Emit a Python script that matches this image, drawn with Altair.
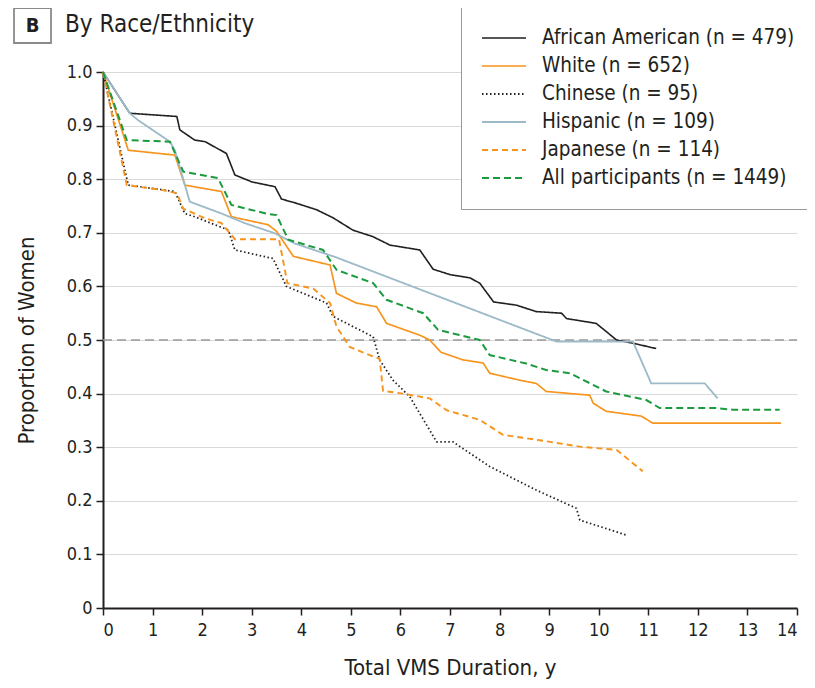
import altair as alt
import pandas as pd

FONT = "DejaVu Sans Condensed, Roboto Condensed, Liberation Sans Narrow, Roboto, sans-serif"

series_names = ["African American (n = 479)", "White (n = 652)", "Chinese (n = 95)",
                "Hispanic (n = 109)", "Japanese (n = 114)", "All participants (n = 1449)"]

aa_x = [0, 0.54, 1.49, 1.55, 1.85, 2.06, 2.49, 2.66, 3.0, 3.47, 3.6, 3.87, 4.31, 4.64, 5.04, 5.44,
        5.79, 6.39, 6.66, 7.0, 7.4, 7.6, 7.88, 8.34, 8.74, 9.25, 9.35, 9.95, 10.36, 10.69, 11.16]
aa_y = [1.0, 0.923, 0.917, 0.892, 0.873, 0.870, 0.848, 0.808, 0.795, 0.786, 0.763, 0.756, 0.743,
        0.728, 0.705, 0.693, 0.677, 0.668, 0.632, 0.622, 0.616, 0.606, 0.571, 0.565, 0.553, 0.550,
        0.540, 0.531, 0.500, 0.494, 0.484]

wh_x = [0, 0.51, 1.45, 1.65, 2.39, 2.59, 3.33, 3.5, 3.84, 4.58, 4.71, 5.11, 5.52, 5.72, 6.39, 6.59,
        6.82, 7.26, 7.67, 7.8, 8.41, 8.74, 8.94, 9.82, 9.89, 10.15, 10.86, 11.09, 13.68]
wh_y = [1.0, 0.854, 0.845, 0.789, 0.777, 0.730, 0.715, 0.703, 0.656, 0.640, 0.587, 0.569, 0.562,
        0.531, 0.509, 0.500, 0.477, 0.463, 0.457, 0.438, 0.425, 0.419, 0.404, 0.397, 0.382, 0.367,
        0.358, 0.345, 0.345]

ch_x = [0, 0.51, 1.45, 1.65, 1.85, 2.53, 2.66, 3.43, 3.7, 4.51, 4.64, 5.45, 5.58, 5.85, 6.19, 6.73,
        7.06, 7.8, 8.74, 9.55, 9.62, 10.56]
ch_y = [1.0, 0.789, 0.777, 0.736, 0.730, 0.705, 0.668, 0.652, 0.600, 0.569, 0.544, 0.506, 0.463,
        0.425, 0.394, 0.310, 0.310, 0.264, 0.220, 0.186, 0.164, 0.136]

hi_x = [0, 0.54, 0.71, 1.35, 1.45, 1.75, 2.39, 2.86, 3.47, 3.87, 4.68, 9.15, 10.69, 11.06, 12.14, 12.4]
hi_y = [1.0, 0.923, 0.91, 0.87, 0.854, 0.758, 0.736, 0.718, 0.699, 0.680, 0.655, 0.497, 0.497,
        0.419, 0.419, 0.391]

jp_x = [0, 0.48, 1.18, 1.49, 1.62, 2.06, 2.39, 2.66, 3.55, 3.72, 4.24, 4.58, 4.71, 4.98, 5.45, 5.58,
        5.65, 6.05, 6.59, 6.93, 7.6, 8.07, 8.81, 9.62, 10.36, 10.89]
jp_y = [1.0, 0.789, 0.780, 0.774, 0.745, 0.727, 0.718, 0.688, 0.688, 0.606, 0.596, 0.569, 0.525,
        0.487, 0.469, 0.465, 0.405, 0.400, 0.391, 0.369, 0.351, 0.323, 0.313, 0.301, 0.295, 0.255]

all_x = [0, 0.48, 1.35, 1.62, 2.32, 2.59, 3.33, 3.5, 3.74, 4.44, 4.71, 5.45, 5.72, 6.46, 6.76, 7.6,
         7.8, 8.54, 8.94, 9.42, 10.15, 10.96, 11.23, 12.37, 12.7, 13.65]
all_y = [1.0, 0.873, 0.870, 0.814, 0.802, 0.752, 0.735, 0.733, 0.687, 0.668, 0.631, 0.606, 0.575,
         0.550, 0.519, 0.500, 0.472, 0.456, 0.444, 0.438, 0.404, 0.388, 0.373, 0.373, 0.370, 0.370]

colors = ["#231f20", "#f7941d", "#231f20", "#9dbac8", "#f7941d", "#1b9a3e"]
dashes = [[1, 0], [1, 0], [1.5, 2.5], [1, 0], [6, 4], [7, 4]]
widths = [1.6, 2.0, 1.6, 2.0, 2.0, 2.6]

rows = []
for name, xs, ys in zip(series_names, [aa_x, wh_x, ch_x, hi_x, jp_x, all_x],
                        [aa_y, wh_y, ch_y, hi_y, jp_y, all_y]):
    for i, (x, y) in enumerate(zip(xs, ys)):
        rows.append({"group": name, "t": x, "p": y, "i": i})
df = pd.DataFrame(rows)

x_scale = alt.Scale(domain=[0, 14], nice=False)
y_scale = alt.Scale(domain=[0, 1], nice=False)

x_axis = alt.Axis(values=list(range(15)), title="Total VMS Duration, y", grid=False,
                  domainColor="#231f20", domainWidth=2, tickColor="#231f20", tickWidth=1.5,
                  tickSize=7, labelFontSize=18, labelColor="#231f20", labelFont=FONT,
                  titleFont=FONT, titleFontSize=22, titleFontWeight="normal",
                  titleColor="#231f20", labelPadding=6, titlePadding=18)
y_axis = alt.Axis(values=[i / 10 for i in range(11)], title="Proportion of Women",
                  labelExpr="datum.value == 0 ? '0' : format(datum.value, '.1f')",
                  grid=True, gridColor="#d9d9d9", gridWidth=1.2,
                  domainColor="#231f20", domainWidth=2, tickColor="#231f20", tickWidth=1.5,
                  tickSize=7, labelFontSize=18, labelColor="#231f20", labelFont=FONT,
                  titleFont=FONT, titleFontSize=22, titleFontWeight="normal",
                  titleColor="#231f20", labelPadding=4, titlePadding=28)

ref = alt.Chart(pd.DataFrame({"t": [0, 14], "p": [0.5, 0.5]})).mark_line(
    color="#999999", strokeWidth=1.5, strokeDash=[9, 5]
).encode(x=alt.X("t:Q", scale=x_scale, axis=x_axis), y=alt.Y("p:Q", scale=y_scale, axis=y_axis))

legend = alt.Legend(title=None, orient="none", legendX=358, legendY=-65,
                    symbolType="M-1,0H3.4", symbolSize=400, symbolStrokeWidth=2,
                    labelFontSize=20.5, labelFont=FONT,
                    labelColor="#231f20", labelOffset=39, rowPadding=6, padding=20,
                    strokeColor="#999999", fillColor="white", labelLimit=400)

lines = alt.Chart(df).mark_line(strokeCap="butt").encode(
    x=alt.X("t:Q", scale=x_scale, axis=x_axis),
    y=alt.Y("p:Q", scale=y_scale, axis=y_axis),
    color=alt.Color("group:N", scale=alt.Scale(domain=series_names, range=colors), legend=legend,
                    sort=series_names),
    strokeDash=alt.StrokeDash("group:N", scale=alt.Scale(domain=series_names, range=dashes),
                              legend=legend, sort=series_names),
    strokeWidth=alt.StrokeWidth("group:N", scale=alt.Scale(domain=series_names, range=widths),
                                legend=None),
    order="i:Q",
)

box = alt.Chart(pd.DataFrame({"a": [0]})).mark_rect(
    fill="white", stroke="#8a8a8a", strokeWidth=1.8
).encode(x=alt.value(-89), x2=alt.value(-52), y=alt.value(-64), y2=alt.value(-29))

btext = alt.Chart(pd.DataFrame({"a": ["B"]})).mark_text(
    font=FONT, fontSize=20, fontWeight="bold", color="#231f20"
).encode(x=alt.value(-70.5), y=alt.value(-46), text="a:N")

ttext = alt.Chart(pd.DataFrame({"a": ["By Race/Ethnicity"]})).mark_text(
    font=FONT, fontSize=24, color="#231f20", align="left"
).encode(x=alt.value(-38), y=alt.value(-47), text="a:N")

chart = alt.layer(ref, lines, box, btext, ttext).properties(
    width=694, height=536,
    autosize=alt.AutoSizeParams(type="none"),
    padding={"left": 95, "top": 64, "right": 10, "bottom": 72},
    background="white",
).configure_view(stroke=None)

chart.save("out.html", embed_options={"renderer": "svg", "actions": False})
